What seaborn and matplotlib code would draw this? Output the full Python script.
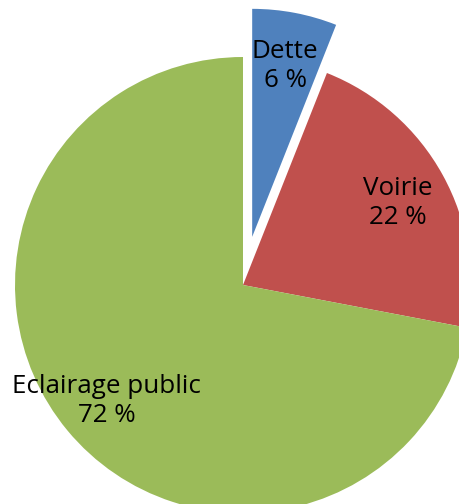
import matplotlib
matplotlib.use("Agg")
import matplotlib.pyplot as plt
import matplotlib.transforms as mtransforms
import seaborn as sns

sns.set_theme(style="white")
plt.rcParams['font.family'] = ['Open Sans', 'DejaVu Sans']

categories = ["Dette", "Voirie", "Eclairage public"]
values = [6, 22, 72]
colors = ["#4F81BD", "#C0504D", "#9BBB59"]
explode = [0.215, 0, 0]

fig = plt.figure(figsize=(4.6, 5.04), dpi=100)
ax = fig.add_axes([0, 0, 1, 1])
labels = [f"{c}\n{v} %" for c, v in zip(categories, values)]
wedges, texts = ax.pie(values, labels=labels, colors=colors, explode=explode,
                       startangle=90, counterclock=False, radius=1.0,
                       labeldistance=0.775,
                       wedgeprops=dict(linewidth=0),
                       textprops=dict(fontsize=18.7, color="black", linespacing=1.22))
shift = mtransforms.offset_copy(ax.transData, fig=fig, x=0, y=-3, units="dots")
for t in texts:
    t.set_ha("center")
    t.set_va("center")
    t.set_multialignment("center")
    t.set_transform(shift)
ax.set_xlim(-243/228, 217/228)
ax.set_ylim(-219/228, 285/228)
ax.set_aspect("equal")
ax.axis("off")
fig.savefig("out.png", dpi=100)
